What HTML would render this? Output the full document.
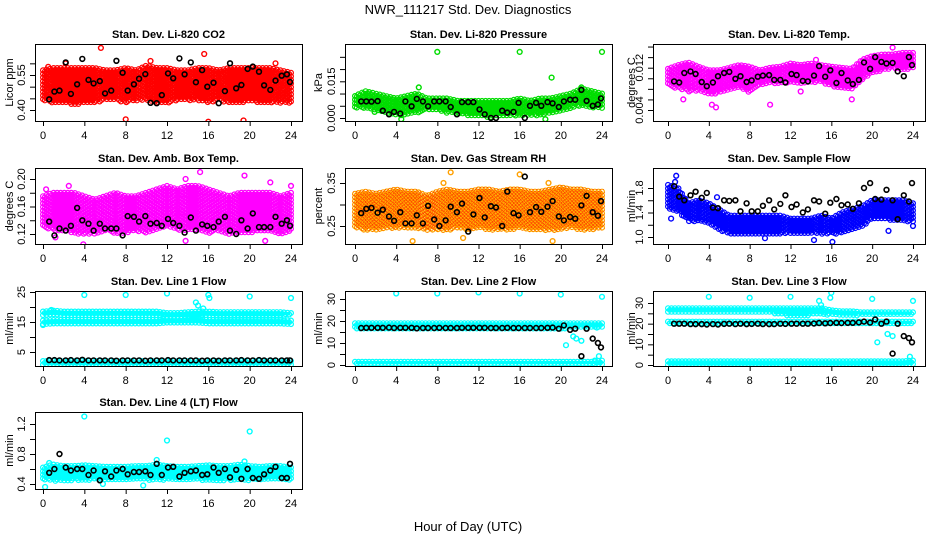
<!DOCTYPE html>
<html><head><meta charset="utf-8"><style>
html,body{margin:0;padding:0;background:#fff;}
svg{display:block;font-family:"Liberation Sans",Arial,sans-serif;}
</style></head><body>
<svg id="c" width="936" height="540" viewBox="0 0 936 540">
<text x="468" y="14" text-anchor="middle" font-size="13">NWR_111217  Std. Dev. Diagnostics</text>
<text x="468" y="531" text-anchor="middle" font-size="13">Hour of Day (UTC)</text>
</svg>
<script>
const hours=[0,1,2,3,4,5,6,7,8,9,10,11,12,13,14,15,16,17,18,19,20,21,22,23,24];
const blackX=[0.6,1.1,1.6,2.2,2.7,3.3,3.8,4.4,4.9,5.5,6.0,6.6,7.1,7.7,8.2,8.8,9.3,9.9,10.4,11.0,11.5,12.1,12.6,13.2,13.7,14.3,14.8,15.4,15.9,16.5,17.0,17.6,18.1,18.7,19.2,19.8,20.3,20.9,21.4,22.0,22.5,23.1,23.6,23.9];
// CO2
const co2Lo=[0.44,0.43,0.43,0.42,0.43,0.43,0.44,0.44,0.43,0.44,0.44,0.43,0.43,0.44,0.44,0.44,0.43,0.44,0.43,0.43,0.44,0.43,0.43,0.43,0.43];
const co2Hi=[0.57,0.58,0.58,0.58,0.58,0.58,0.57,0.57,0.58,0.57,0.59,0.58,0.58,0.57,0.57,0.58,0.58,0.57,0.58,0.58,0.58,0.58,0.58,0.57,0.56];
const co2BlackY=[0.446,0.479,0.483,0.604,0.469,0.51,0.619,0.529,0.514,0.524,0.471,0.483,0.611,0.56,0.483,0.51,0.534,0.554,0.431,0.429,0.464,0.557,0.536,0.621,0.553,0.604,0.519,0.571,0.50,0.517,0.429,0.481,0.60,0.493,0.507,0.576,0.586,0.564,0.506,0.486,0.526,0.547,0.553,0.52];
const co2OutX=[5.6,15.6,22.5,8,16,19.4,0.5,2.2,10.4];
const co2OutY=[0.666,0.64,0.60,0.36,0.35,0.355,0.585,0.60,0.61];
// Pressure
const prLo=[0.004,0.004,0.003,0.002,0.001,0.001,0.002,0.003,0.003,0.002,0.002,0.001,0.001,0.000,0.001,0.001,0.001,0.001,0.001,0.002,0.003,0.004,0.005,0.004,0.004];
const prHi=[0.009,0.011,0.010,0.009,0.008,0.009,0.010,0.008,0.008,0.008,0.007,0.007,0.007,0.007,0.007,0.007,0.008,0.007,0.008,0.008,0.009,0.010,0.012,0.011,0.010];
const prBlackY=[0.0068,0.0068,0.0067,0.0069,0.003,0.0015,0.0025,0.0018,0.0068,0.0048,0.0078,0.0068,0.0048,0.0068,0.0068,0.0068,0.0045,0.0015,0.0065,0.0065,0.0065,0.0035,0.0015,0.0000,0.0000,0.0030,0.0022,0.0025,0.0062,0.0000,0.0050,0.0062,0.0050,0.0065,0.0060,0.0045,0.0068,0.0075,0.0075,0.0115,0.0070,0.0050,0.0055,0.0080];
const prOutX=[8,16,24,19.1,6.2,22,1.9,4.5,18.5];
const prOutY=[0.027,0.027,0.027,0.0165,0.0125,0.0125,0.0025,-0.0005,-0.0005];
// Li-820 Temp
const tLo=[0.0085,0.008,0.0075,0.0075,0.0068,0.0072,0.0078,0.0082,0.0072,0.0085,0.009,0.009,0.0092,0.009,0.0092,0.0092,0.0085,0.0082,0.0078,0.0095,0.011,0.0115,0.0118,0.0115,0.012];
const tHi=[0.0118,0.0125,0.013,0.0122,0.0115,0.0115,0.012,0.0125,0.0122,0.0115,0.012,0.0122,0.0128,0.0125,0.0128,0.0125,0.0122,0.012,0.0118,0.0135,0.0142,0.0145,0.0145,0.0148,0.0148];
const tBlackY=[0.0094,0.0092,0.011,0.0113,0.0108,0.0093,0.0085,0.0092,0.0104,0.011,0.0112,0.0099,0.0104,0.0093,0.0096,0.0103,0.0105,0.0106,0.0097,0.0097,0.0092,0.0108,0.0106,0.0095,0.0094,0.0105,0.0123,0.0103,0.0115,0.0091,0.0110,0.0096,0.0089,0.0097,0.0130,0.0118,0.0140,0.0131,0.0128,0.0129,0.0113,0.0104,0.0140,0.0125];
const tOutX=[4.7,4.3,10,1.5,13,18,22,14.5];
const tOutY=[0.0045,0.005,0.005,0.006,0.0075,0.006,0.0158,0.0135];
// Amb box temp
const abLo=[0.13,0.125,0.125,0.12,0.12,0.12,0.125,0.12,0.12,0.125,0.12,0.125,0.13,0.125,0.125,0.125,0.12,0.125,0.12,0.12,0.12,0.125,0.125,0.12,0.125];
const abHi=[0.175,0.18,0.18,0.18,0.175,0.17,0.175,0.18,0.175,0.175,0.18,0.185,0.19,0.185,0.19,0.19,0.185,0.18,0.175,0.18,0.18,0.18,0.18,0.175,0.18];
const abBlackY=[0.138,0.118,0.128,0.125,0.132,0.158,0.14,0.135,0.125,0.135,0.128,0.128,0.128,0.118,0.146,0.145,0.138,0.146,0.135,0.136,0.132,0.142,0.136,0.132,0.122,0.144,0.125,0.134,0.132,0.130,0.138,0.145,0.125,0.120,0.140,0.128,0.150,0.130,0.130,0.130,0.145,0.135,0.140,0.132];
const abOutX=[15.2,13.8,19.5,22,2.5,0.3,24,3.9,13.8,21.5,1.2];
const abOutY=[0.21,0.20,0.205,0.195,0.19,0.185,0.19,0.105,0.11,0.11,0.115];
// Gas stream RH
const rhLo=[0.245,0.24,0.24,0.245,0.245,0.245,0.245,0.24,0.24,0.24,0.245,0.24,0.245,0.24,0.24,0.24,0.245,0.24,0.24,0.24,0.24,0.245,0.24,0.24,0.245];
const rhHi=[0.325,0.33,0.325,0.33,0.335,0.33,0.33,0.32,0.33,0.335,0.33,0.33,0.335,0.335,0.33,0.335,0.335,0.33,0.33,0.335,0.34,0.335,0.335,0.33,0.33];
const rhBlackY=[0.28,0.29,0.292,0.281,0.288,0.272,0.262,0.282,0.256,0.256,0.275,0.256,0.297,0.265,0.25,0.263,0.295,0.282,0.302,0.237,0.277,0.315,0.270,0.296,0.293,0.25,0.33,0.28,0.275,0.365,0.282,0.294,0.283,0.295,0.308,0.272,0.263,0.271,0.267,0.298,0.32,0.282,0.274,0.308];
const rhOutX=[9.3,16,8,5.6,19.2,8.6,18.8,10.5];
const rhOutY=[0.375,0.37,0.20,0.215,0.215,0.35,0.35,0.222];
// Sample flow
const sfLo=[1.45,1.4,1.25,1.25,1.2,1.1,1.05,1.05,1.05,1.05,1.05,1.05,1.05,1.05,1.05,1.05,1.05,1.05,1.1,1.15,1.3,1.3,1.25,1.25,1.25];
const sfHi=[1.85,1.8,1.55,1.6,1.55,1.45,1.35,1.35,1.35,1.35,1.35,1.35,1.3,1.3,1.3,1.35,1.3,1.4,1.45,1.5,1.6,1.6,1.6,1.6,1.55];
const sfBlackY=[1.83,1.66,1.6,1.68,1.74,1.64,1.72,1.48,1.47,1.6,1.59,1.6,1.42,1.55,1.42,1.42,1.51,1.6,1.45,1.54,1.68,1.49,1.53,1.4,1.45,1.6,1.58,1.38,1.56,1.62,1.52,1.53,1.46,1.55,1.8,1.88,1.62,1.61,1.77,1.6,1.29,1.68,1.58,1.88];
const sfOutX=[0.8,0.7,0.3,4.8,14.3,16.1,21.6,24,9.5];
const sfOutY=[2.0,1.9,1.3,1.65,0.95,0.92,1.1,1.18,0.98];
// Line 1
const l1UpLo=[17,17,17,17,17,17,17,17,17,17,17,17,16.5,16.5,16.5,16.5,17,17,17,17,17,17,17,17,17];
const l1UpHi=[18.5,18.8,18.5,18.5,18.5,18.5,18.5,18.5,18.5,18.5,18.5,18.5,18,18,18.3,18.5,18.5,18.3,18.3,18.3,18.3,18.3,18.3,18.3,18];
const l1MidLo=[14,14.3,14.3,14.3,14.3,14.3,14.3,14.3,14.3,14.3,14.3,14.3,14.5,14.5,14.5,14.5,14.5,14.3,14.3,14.3,14.3,14.3,14.3,14.3,14.3];
const l1MidHi=[15.5,15.7,15.7,15.7,15.7,15.7,15.7,15.7,15.7,15.7,15.7,15.7,16,16,16,16,15.7,15.7,15.7,15.7,15.7,15.7,15.7,15.7,15.5];
const l1BotLo=[0.8,0.8,0.8,0.8,0.8,0.8,0.8,0.8,0.8,0.8,0.8,0.8,0.8,0.8,0.8,0.8,0.8,0.8,0.8,0.8,0.8,0.8,0.8,0.8,0.8];
const l1BotHi=[2,2,2,2,2,2,2,2,2,2,2,2,2,2,2,2,2,2,2,2,2,2,2,2,2];
const l1BlackY=[2.3,2.3,2.2,2.2,2.3,2.2,2.4,2.2,2.2,2.2,2.2,2.2,2.1,2.2,2.2,2.2,2.2,2.1,2.2,2.2,2.2,2.3,2.2,2.2,2.2,2.2,2.2,2.1,2.2,2.2,2.1,2.2,2.2,2.2,2.3,2.2,2.2,2.3,2.2,2.2,2.2,2.2,2.2,2.2];
const l1OutX=[4,8,12,16,16.1,20,24,14.8,15,15.5,0.8,0];
const l1OutY=[24,24,24.5,24,23,23.5,23,21.5,20.5,19.5,19,14];
// Line 2
const l2UpLo=[16,16,16,16,16,16,16,16,16,16,16,16,16,16,16,16,16,16,16,16,16,17,17,17,17];
const l2UpHi=[19,19,19,19,19,19,19,19,19,19,19,19,19,19,19,19,19,19,19,19,19,19,19,19,19];
const l2BotLo=[0,0,0,0,0,0,0,0,0,0,0,0,0,0,0,0,0,0,0,0,0,0,0,0,0];
const l2BotHi=[1.5,1.5,1.5,1.5,1.5,1.5,1.5,1.5,1.5,1.5,1.5,1.5,1.5,1.5,1.5,1.5,1.5,1.5,1.5,1.5,1.5,1.5,1.5,1.5,2];
const l2BlackY=[16.8,16.9,16.9,16.9,16.9,17,16.8,16.9,16.9,16.9,16.7,16.8,16.8,16.8,16.9,16.8,16.8,16.8,16.9,16.9,16.9,16.9,16.9,16.8,16.8,16.8,16.9,16.8,16.8,16.8,16.8,16.8,16.8,16.9,17,16.5,18,16,16.5,4,16.5,12,10,8];
const l2OutX=[4,8,12,16,20,24,20.5,21.2,21.5,22,23.5,23.3,23.7];
const l2OutY=[32.5,32.5,33,32.5,32,31,9,13,12,11,17,2,4];
// Line 3
const l3UpLo=[25,25,25,25,25,25,25,25,25,25,25,24.5,23.5,23.5,24,24.5,24,24,24,24,24,24,24,24,24];
const l3UpHi=[27.5,27.5,27.5,27.5,27.5,27.5,27.5,27.5,27.5,27.5,27.5,27.5,27.5,27.5,27.5,27.5,26.5,26,26,25.5,25.5,25.5,25.5,25.5,25.5];
const l3MidLo=[19.5,19.5,19.5,19.5,19.5,19.5,19.5,19.5,19.5,19.5,19.5,19.5,19.5,19.5,19.5,19.5,19.5,19.5,19.5,19.5,19.5,20,20,20,20];
const l3MidHi=[21,21,21,21,21,21,21,21,21,21,21,21,21,21,21,21,21,21,21,21,21,21,21,21,21];
const l3BotLo=[0,0,0,0,0,0,0,0,0,0,0,0,0,0,0,0,0,0,0,0,0,0,0,0,0];
const l3BotHi=[1.8,1.8,1.8,1.8,1.8,1.8,1.8,1.8,1.8,1.8,1.8,1.8,1.8,1.8,1.8,1.8,1.8,1.8,1.8,1.8,1.8,1.8,1.8,1.8,2.2];
const l3BlackY=[20,20,20,19.8,19.8,19.8,19.6,19.8,19.6,19.9,20,19.8,20,19.8,19.9,20,19.8,19.8,19.8,20,19.9,20,20,20,20,20.1,20.3,20.2,20.3,20.4,20.3,20.4,20.4,20.6,21,20.5,22,20,21,5.5,20,14,13,11];
const l3OutX=[4,8,12,16,15.9,20,24,20.5,14.8,15,23.7,21.5,22];
const l3OutY=[33,32.5,33,35,32.5,32,31,11,31,29,4,15,14];
// Line 4
const l4Lo=[0.45,0.44,0.44,0.45,0.45,0.45,0.45,0.45,0.45,0.45,0.45,0.45,0.45,0.45,0.45,0.45,0.44,0.44,0.45,0.45,0.45,0.45,0.45,0.45,0.45];
const l4Hi=[0.62,0.66,0.64,0.64,0.65,0.64,0.63,0.63,0.63,0.64,0.64,0.66,0.64,0.63,0.63,0.64,0.65,0.64,0.64,0.66,0.64,0.63,0.64,0.64,0.62];
const l4BlackY=[0.55,0.6,0.8,0.62,0.58,0.6,0.6,0.52,0.58,0.45,0.57,0.5,0.58,0.6,0.53,0.56,0.56,0.57,0.52,0.67,0.52,0.62,0.63,0.5,0.55,0.57,0.58,0.52,0.53,0.62,0.55,0.6,0.49,0.59,0.47,0.6,0.48,0.47,0.53,0.58,0.63,0.48,0.48,0.67];
const l4OutX=[4,12,20,0.2,11,9.7,19.5,0.6,5.8];
const l4OutY=[1.3,0.98,1.1,0.36,0.72,0.38,0.7,0.68,0.4];

const NS="http://www.w3.org/2000/svg";
const svg=document.getElementById('c');
function mk(tag,attrs,parent){const e=document.createElementNS(NS,tag);for(const k in attrs)e.setAttribute(k,attrs[k]);(parent||svg).appendChild(e);return e;}

const cols=[{bx0:35,bx1:302,x0:43,x24:291,yt:13},{bx0:345,bx1:612,x0:355,x24:602,yt:322},{bx0:653,bx1:925,x0:668,x24:913,yt:635}];
const rows=[{top:44,bot:121},{top:168,bot:244},{top:291,bot:366},{top:412,bot:489}];

const panels=[
 {key:'co2',title:'Stan. Dev. Li-820 CO2',yl:'Licor ppm',c:0,r:0,cal:[0.40,110,0.55,75],ticks:[0.40,0.45,0.50,0.55,0.60],labs:['0.40','0.55'],labV:[0.40,0.55],
  bands:[[co2Lo,co2Hi,'#ff0000']],bY:co2BlackY,oX:co2OutX,oY:co2OutY,oc:'#ff0000'},
 {key:'pressure',title:'Stan. Dev. Li-820 Pressure',yl:'kPa',c:1,r:0,cal:[0,118,0.015,81.3],ticks:[0,0.005,0.010,0.015,0.020,0.025],labs:['0.000','0.015'],labV:[0,0.015],
  bands:[[prLo,prHi,'#00dd00']],bY:prBlackY,oX:prOutX,oY:prOutY,oc:'#00dd00'},
 {key:'li-temp',title:'Stan. Dev. Li-820 Temp.',yl:'degrees C',c:2,r:0,cal:[0.004,110,0.012,67.7],ticks:[0.004,0.006,0.008,0.010,0.012,0.014,0.016],labs:['0.004','0.012'],labV:[0.004,0.012],
  bands:[[tLo,tHi,'#ff00ff']],bY:tBlackY,oX:tOutX,oY:tOutY,oc:'#ff00ff'},
 {key:'amb-box-temp',title:'Stan. Dev. Amb. Box Temp.',yl:'degrees C',c:0,r:1,cal:[0.12,234,0.20,179],ticks:[0.12,0.14,0.16,0.18,0.20],labs:['0.12','0.16','0.20'],labV:[0.12,0.16,0.20],
  bands:[[abLo,abHi,'#ff00ff']],bY:abBlackY,oX:abOutX,oY:abOutY,oc:'#ff00ff'},
 {key:'gas-rh',title:'Stan. Dev. Gas Stream RH',yl:'percent',c:1,r:1,cal:[0.25,226,0.35,183],ticks:[0.25,0.30,0.35],labs:['0.25','0.35'],labV:[0.25,0.35],
  bands:[[rhLo,rhHi,'#ffb000']],bY:rhBlackY,oX:rhOutX,oY:rhOutY,oc:'#ffa000',rh:true},
 {key:'sample-flow',title:'Stan. Dev. Sample Flow',yl:'ml/min',c:2,r:1,cal:[1.0,237,1.8,188],ticks:[1.0,1.2,1.4,1.6,1.8],labs:['1.0','1.4','1.8'],labV:[1.0,1.4,1.8],
  bands:[[sfLo,sfHi,'#0000ff']],bY:sfBlackY,oX:sfOutX,oY:sfOutY,oc:'#0000ff'},
 {key:'line1-flow',title:'Stan. Dev. Line 1 Flow',yl:'ml/min',c:0,r:2,cal:[0,367,25,292],ticks:[5,10,15,20,25],labs:['5','15','25'],labV:[5,15,25],
  bands:[[l1UpLo,l1UpHi,'#00ffff'],[l1MidLo,l1MidHi,'#00ffff'],[l1BotLo,l1BotHi,'#00ffff']],bY:l1BlackY,oX:l1OutX,oY:l1OutY,oc:'#00ffff'},
 {key:'line2-flow',title:'Stan. Dev. Line 2 Flow',yl:'ml/min',c:1,r:2,cal:[0,365,30,299],ticks:[0,5,10,15,20,25,30],labs:['0','10','20','30'],labV:[0,10,20,30],
  bands:[[l2UpLo,l2UpHi,'#00ffff'],[l2BotLo,l2BotHi,'#00ffff']],bY:l2BlackY,oX:l2OutX,oY:l2OutY,oc:'#00ffff'},
 {key:'line3-flow',title:'Stan. Dev. Line 3 Flow',yl:'ml/min',c:2,r:2,cal:[0,365,30,303],ticks:[0,5,10,15,20,25,30],labs:['0','10','20','30'],labV:[0,10,20,30],
  bands:[[l3UpLo,l3UpHi,'#00ffff'],[l3MidLo,l3MidHi,'#00ffff'],[l3BotLo,l3BotHi,'#00ffff']],bY:l3BlackY,oX:l3OutX,oY:l3OutY,oc:'#00ffff'},
 {key:'line4-flow',title:'Stan. Dev. Line 4 (LT) Flow',yl:'ml/min',c:0,r:3,cal:[0.4,484,1.2,424],ticks:[0.4,0.6,0.8,1.0,1.2],labs:['0.4','0.8','1.2'],labV:[0.4,0.8,1.2],
  bands:[[l4Lo,l4Hi,'#00ffff']],bY:l4BlackY,oX:l4OutX,oY:l4OutY,oc:'#00ffff'}
];
const xTicks=[0,4,8,12,16,20,24];
const R=2.4;
function circ(x,y){return 'M'+(x-R).toFixed(1)+' '+y.toFixed(1)+'a'+R+' '+R+' 0 1 0 '+(2*R)+' 0a'+R+' '+R+' 0 1 0 '+(-2*R)+' 0';}
function interp(arr,h){const i=Math.min(Math.floor(h),23);const t=h-i;return arr[i]*(1-t)+arr[i+1]*t;}

panels.forEach(p=>{
  const col=cols[p.c],row=rows[p.r];
  const X=h=>col.x0+h*(col.x24-col.x0)/24;
  const Y=v=>p.cal[1]+(v-p.cal[0])*(p.cal[3]-p.cal[1])/(p.cal[2]-p.cal[0]);
  const g=mk('g',{});
  
  
  const clipId='clip-'+p.key;
  const cp=mk('clipPath',{id:clipId},g);
  mk('rect',{x:col.bx0,y:row.top,width:col.bx1-col.bx0,height:row.bot-row.top},cp);
  const plot=mk('g',{'clip-path':'url(#'+clipId+')'},g);
  p.bands.forEach((b,bi)=>{
    let d='';const N=140;
    for(let c=0;c<=N;c++){
      const h=c*24/N;const y1=Y(interp(b[1],h)),y2=Y(interp(b[0],h));
      const x=X(h);
      for(let y=y1+(c%2)*1.7;y<=y2;y+=3.6)d+=circ(x,y);
    }
    const path=mk('path',{d:d,fill:'none',stroke:b[2],'stroke-width':1.2},plot);
    
    
    if(p.rh){
      const p2=mk('path',{d:d,fill:'none',stroke:'#ff3000','stroke-width':0.6,'stroke-dasharray':'1 2'},plot);
      
      
    }
  });
  let od='';p.oX.forEach((x,i)=>{od+=circ(X(x),Y(p.oY[i]));});
  const op=mk('path',{d:od,fill:'none',stroke:p.oc,'stroke-width':1.4},plot);
  
  
  let bd='';blackX.forEach((x,i)=>{bd+=circ(X(x),Y(p.bY[i]));});
  const bp=mk('path',{d:bd,fill:'none',stroke:'#000','stroke-width':1.6},plot);
  
  
  const box=mk('rect',{x:col.bx0+0.5,y:row.top+0.5,width:col.bx1-col.bx0,height:row.bot-row.top,fill:'none',stroke:'#000','stroke-width':1},g);
  
  
  const xa=mk('g',{},g);
  
  
  mk('line',{x1:X(0),x2:X(24),y1:row.bot+0.5,y2:row.bot+0.5,stroke:'#000'},xa);
  xTicks.forEach(t=>{
    mk('line',{x1:X(t)+0.5,x2:X(t)+0.5,y1:row.bot,y2:row.bot+5,stroke:'#000'},xa);
    const tx=mk('text',{x:X(t),y:row.bot+18,'font-size':11,'text-anchor':'middle'},xa);tx.textContent=t;
  });
  const ya=mk('g',{},g);
  
  
  const tY=p.ticks.map(Y);
  mk('line',{x1:col.bx0+0.5,x2:col.bx0+0.5,y1:Math.min(...tY),y2:Math.max(...tY),stroke:'#000'},ya);
  tY.forEach(y=>mk('line',{x1:col.bx0-5,x2:col.bx0,y1:y+0.5,y2:y+0.5,stroke:'#000'},ya));
  p.labV.forEach((v,i)=>{
    const y=Y(v),x=col.bx0-10;
    const tx=mk('text',{x:x,y:y,'font-size':11,'text-anchor':'middle',transform:'rotate(-90 '+x+' '+y+')'},ya);tx.textContent=p.labs[i];
  });
  const cy=(row.top+row.bot)/2;
  const yt=mk('text',{x:col.yt,y:cy,'font-size':11,'text-anchor':'middle',transform:'rotate(-90 '+col.yt+' '+cy+')'},g);
  yt.textContent=p.yl;
  
  
  const ti=mk('text',{x:(col.bx0+col.bx1)/2,y:row.top-6,'font-size':11,'font-weight':'bold','text-anchor':'middle'},g);
  ti.textContent=p.title;
  
  
});
</script>
</body></html>
